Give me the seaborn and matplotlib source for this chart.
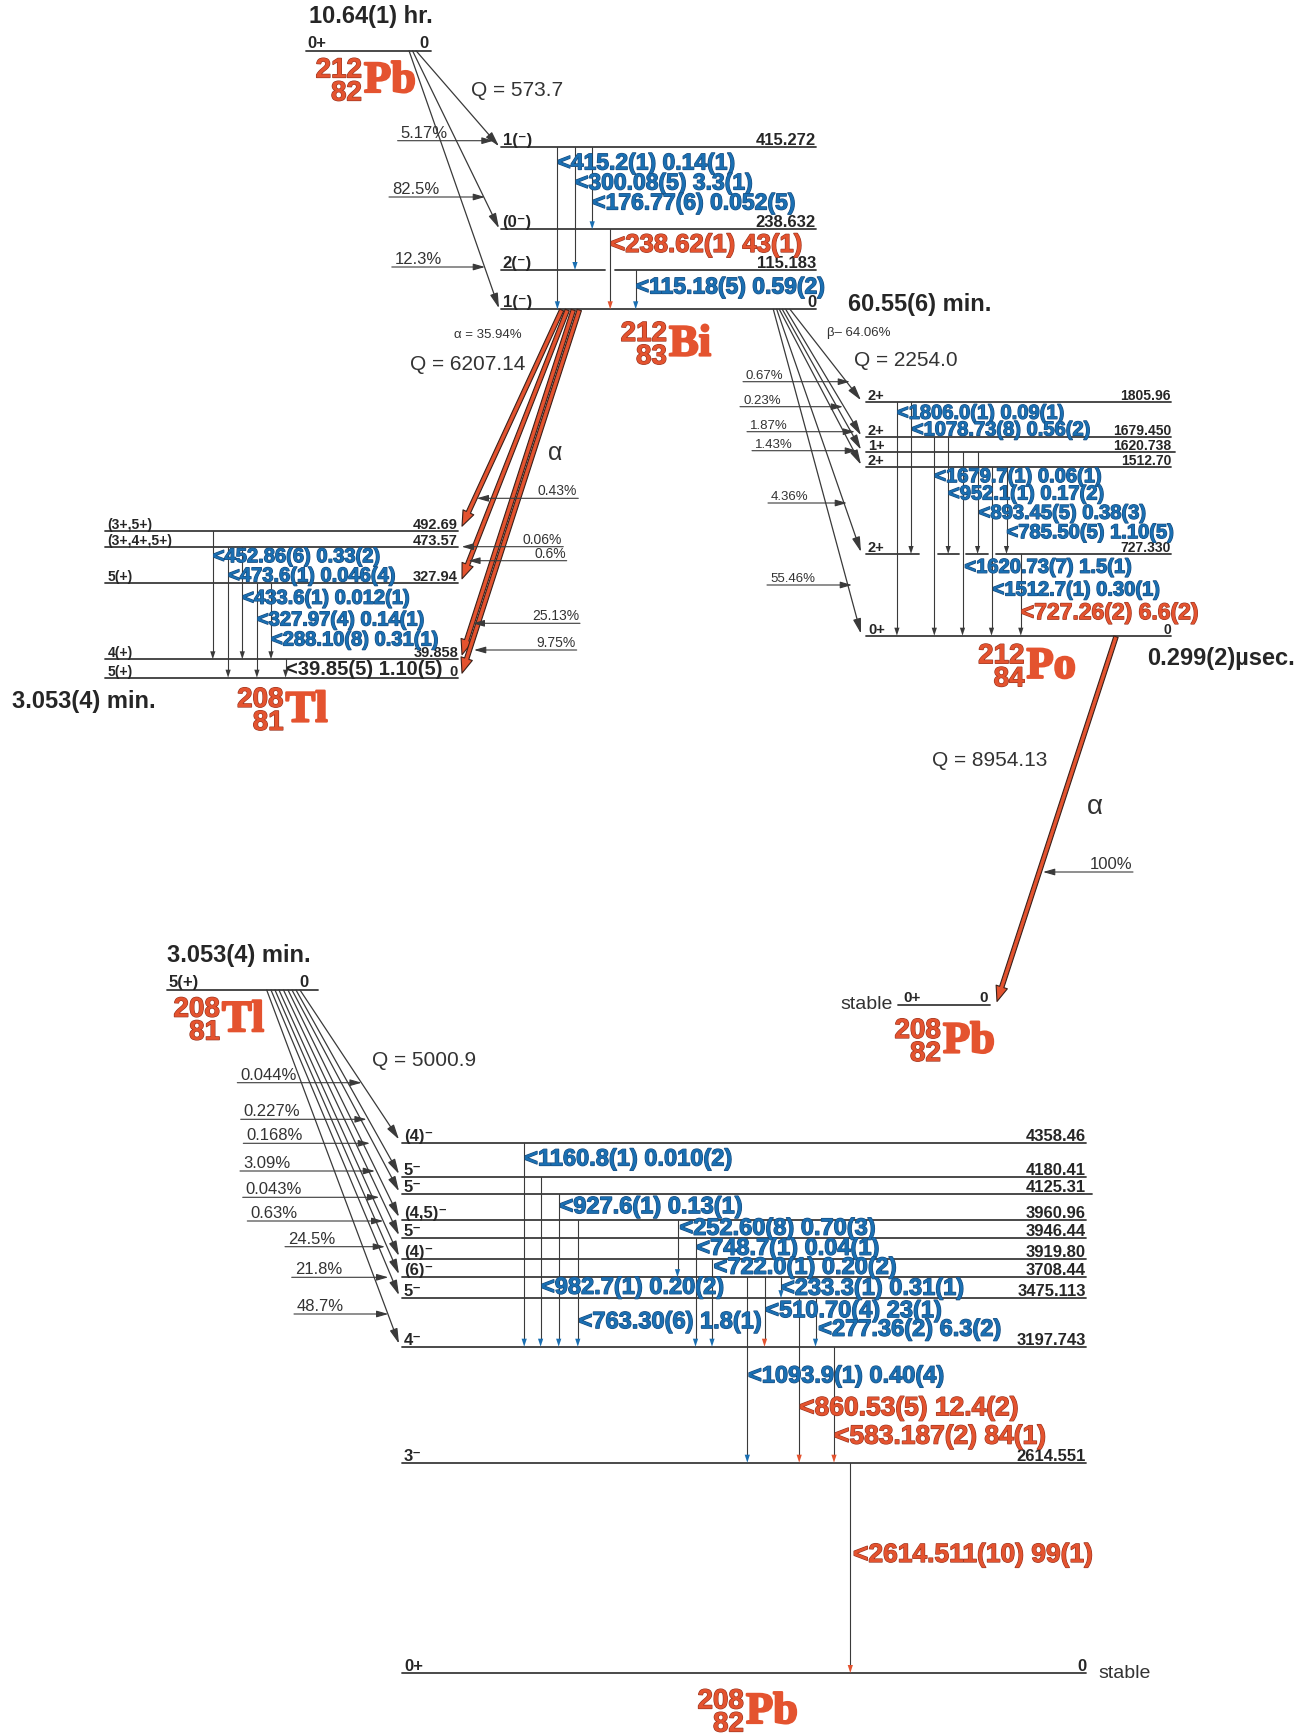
import matplotlib
matplotlib.use("Agg")
import pandas as pd
import matplotlib.pyplot as plt
import matplotlib.patheffects as pe
from matplotlib.patches import FancyArrowPatch
import seaborn as sns

# ----------------------------- #
# 1. Decay data (values read off the scheme)
# ----------------------------- #
# 212Pb -> 212Bi (beta-)
pb212_halflife = "10.64(1) hr."
pb212_q = "Q = 573.7"
bi_energy = ["415.272", "238.632", "115.183", "0"]
bi_spin = ["1(⁻)", "(0⁻)", "2(⁻)", "1(⁻)"]
bi_feed_level = ["415.272", "238.632", "0"]
bi_feed_pct = ["5.17%", "82.5%", "12.3%"]
bi_g_from = ["415.272", "415.272", "415.272", "238.632", "115.183"]
bi_g_to = ["0", "115.183", "238.632", "0", "0"]
bi_g_text = ["415.2(1) 0.14(1)", "300.08(5) 3.3(1)", "176.77(6) 0.052(5)",
             "238.62(1) 43(1)", "115.18(5) 0.59(2)"]

# 212Bi -> 208Tl (alpha)
bi_halflife = "60.55(6) min."
bi_alpha_branch = "α = 35.94%"
bi_alpha_q = "Q = 6207.14"
tl_energy = ["492.69", "473.57", "327.94", "39.858", "0"]
tl_spin = ["(3+,5+)", "(3+,4+,5+)", "5(+)", "4(+)", "5(+)"]
bi_alpha_to = ["492.69", "327.94", "39.858", "0"]
bi_alpha_pct = ["0.43%", "0.06%", "0.6%", "25.13%", "9.75%"]
tl_g_from = ["492.69", "473.57", "473.57", "327.94", "327.94", "39.858"]
tl_g_to = ["39.858", "0", "39.858", "0", "39.858", "0"]
tl_g_text = ["452.86(6) 0.33(2)", "473.6(1) 0.046(4)", "433.6(1) 0.012(1)",
             "327.97(4) 0.14(1)", "288.10(8) 0.31(1)", "39.85(5) 1.10(5)"]
tl_halflife = "3.053(4) min."

# 212Bi -> 212Po (beta-)
bi_beta_branch = "β– 64.06%"
bi_beta_q = "Q = 2254.0"
po_energy = ["1805.96", "1679.450", "1620.738", "1512.70", "727.330", "0"]
po_spin = ["2+", "2+", "1+", "2+", "2+", "0+"]
po_feed_pct = ["0.67%", "0.23%", "1.87%", "1.43%", "4.36%", "55.46%"]
po_g_from = ["1805.96", "1805.96", "1679.450", "1679.450", "1620.738",
             "1620.738", "1512.70", "1512.70", "727.330"]
po_g_to = ["0", "727.330", "0", "727.330", "0", "727.330", "0", "727.330", "0"]
po_g_text = ["1806.0(1) 0.09(1)", "1078.73(8) 0.56(2)", "1679.7(1) 0.06(1)",
             "952.1(1) 0.17(2)", "1620.73(7) 1.5(1)", "893.45(5) 0.38(3)",
             "1512.7(1) 0.30(1)", "785.50(5) 1.10(5)", "727.26(2) 6.6(2)"]
po_halflife = "0.299(2)µsec."

# 212Po -> 208Pb (alpha)
po_alpha_q = "Q = 8954.13"
po_alpha_pct = "100%"

# 208Tl -> 208Pb (beta-)
tl_q = "Q = 5000.9"
pb_energy = ["4358.46", "4180.41", "4125.31", "3960.96", "3946.44", "3919.80",
             "3708.44", "3475.113", "3197.743", "2614.551", "0"]
pb_spin = ["(4)⁻", "5⁻", "5⁻", "(4,5)⁻", "5⁻", "(4)⁻", "(6)⁻", "5⁻", "4⁻", "3⁻", "0+"]
tl_feed_pct = ["0.044%", "0.227%", "0.168%", "3.09%", "0.043%", "0.63%",
               "24.5%", "21.8%", "48.7%"]
pb_g_from = ["4358.46", "4180.41", "4125.31", "3960.96", "3960.96", "3946.44",
             "3919.80", "3708.44", "3708.44", "3708.44", "3475.113", "3475.113",
             "3197.743", "2614.551"]
pb_g_to = ["3197.743", "3197.743", "3197.743", "3197.743", "3708.44", "3197.743",
           "3197.743", "2614.551", "3197.743", "3475.113", "2614.551", "3197.743",
           "2614.551", "0"]
pb_g_text = ["1160.8(1) 0.010(2)", "982.7(1) 0.20(2)", "927.6(1) 0.13(1)",
             "763.30(6) 1.8(1)", "252.60(8) 0.70(3)", "748.7(1) 0.04(1)",
             "722.0(1) 0.20(2)", "1093.9(1) 0.40(4)", "510.70(4) 23(1)",
             "233.3(1) 0.31(1)", "860.53(5) 12.4(2)", "277.36(2) 6.3(2)",
             "583.187(2) 84(1)", "2614.511(10) 99(1)"]

# ----------------------------- #
# 2. Layout of the scheme (pixel canvas) and styles
# ----------------------------- #
RED, RED_EDGE = "#e4532f", "#9a3420"
BLUE, BLUE_EDGE = "#1a6fb2", "#174a7c"
INK, LINE = "#262626", "#3a3a3a"

bi_y = [147.3, 229.3, 270, 309.3]
bi_x = (500.5, 816)
bi_beta_start = [416, 412.5, 409]
bi_pct_arrow = [(397.6, 493.6, 140.7), (389, 485, 197), (391.8, 485, 267)]
bi_gx = [557.4, 575, 592.2, 610.2, 635.7]
bi_gly = [163, 183, 203, 245, 287]
bi_gcol = ["b", "b", "b", "r", "b"]

tl_y = [530.7, 547.3, 583.3, 659.3, 677.7]
tl_x = (105.4, 458)
bi_alpha_start = [561.7, 567.3, 573.3, 579.3]
bi_alpha_arrow = [(476.7, 578.3, 498.3), (461.7, 563.3, 546.7), (468.3, 566.7, 560.7),
                  (472.7, 580, 623.3), (474, 576.7, 650)]
tl_gx = [212.8, 228.1, 242.3, 256.9, 271, 285.6]
tl_gly = [556.7, 576, 598.3, 620, 640, 669.3]
tl_gcol = ["b", "b", "b", "b", "b", "k"]

po_y = [402.3, 437.3, 451.7, 466.7, 554, 635.7]
po_x = (866, 1171)
po_beta_start = [790, 785.7, 782.3, 779.3, 776.7, 773.3]
po_pct_arrow = [(743, 850, 381.7), (740, 843, 406.7), (747, 855, 431.7),
                (752, 857, 450.7), (768, 847, 503), (767, 852, 585)]
po_gx = [896.9, 911, 934.3, 948.2, 962.5, 977.6, 991.5, 1006.5, 1020.8]
po_glx = [896.9, 911.8, 934.3, 948, 964.4, 978.7, 992.6, 1006.5, 1020.8]
po_gly = [413.3, 430, 476.7, 494, 567.3, 513.3, 590, 532.7, 612.7]
po_gcol = ["b"] * 8 + ["r"]

pb_y = [1142.5, 1177, 1194.3, 1220, 1238.2, 1259, 1277.2, 1298.2, 1346.7, 1462.7, 1673]
pb_x = (402, 1086)
tl_beta_start = [300, 296, 292, 288, 283.5, 279, 275, 271, 266.7]
tl_pct_arrow = [(237.3, 361.7, 1082.7), (240.7, 366.7, 1119.3), (243.3, 370, 1143.3),
                (240, 375, 1171), (242.7, 379.3, 1197.3), (247.3, 383.3, 1221),
                (285, 385, 1246.7), (291.7, 388.3, 1277.3), (294, 388.3, 1314)]
pb_gx = [524.2, 540.6, 558.7, 577.8, 677.5, 695.5, 712, 747.3, 764.5, 781, 799.2,
         815.5, 834, 850.3]
pb_glx = [524.2, 541, 559.5, 578.6, 679.4, 696.3, 713.6, 748, 765.3, 781, 799.2,
          818.2, 834, 853]
pb_gly = [1159, 1287.3, 1206.7, 1321.7, 1228.3, 1248.3, 1267.3, 1376, 1310.7,
          1288.3, 1408.3, 1329.3, 1436.7, 1555]
pb_glabel = ["b"] * 10 + ["r", "b", "r", "r"]
pb_ghead = ["b"] * 8 + ["r", "b", "r", "b", "r", "r"]

COL = {"b": (BLUE, BLUE_EDGE), "r": (RED, RED_EDGE), "k": (INK, None)}

# ----------------------------- #
# 3. Canvas
# ----------------------------- #
sns.set_theme(style="white")
plt.rcParams["font.family"] = ["Liberation Sans", "DejaVu Sans"]
plt.rcParams["savefig.facecolor"] = "white"

fig = plt.figure(figsize=(13.09, 17.35), dpi=100)
ax = fig.add_axes([0, 0, 1, 1])

level_rows = []
gamma_rows = []


def seg(rows, x0, y0, x1, y1):
    n = len(rows) // 2
    rows.append({"seg": n, "x": x0, "y": y0})
    rows.append({"seg": n, "x": x1, "y": y1})


def text(x, y, s, fs, weight="normal", color=INK, ha="left", va="baseline",
         family=None, edge=None, lw=1.4):
    kw = {}
    if family:
        kw["family"] = family
    if edge:
        kw["path_effects"] = [pe.withStroke(linewidth=lw, foreground=edge)]
    ax.text(x, y, s, fontsize=fs, fontweight=weight, color=color, ha=ha, va=va, **kw)


def levels(energies, spins, ys, x0, x1, fs_e, fs_s, gaps=None, right_ext=None):
    gaps = gaps or {}
    right_ext = right_ext or {}
    for e, s, y in zip(energies, spins, ys):
        xr = right_ext.get(e, x1)
        pts = [x0]
        for a, b in gaps.get(e, []):
            pts += [a, b]
        pts.append(xr)
        for a, b in zip(pts[::2], pts[1::2]):
            seg(level_rows, a, y, b, y)
        text(x0 + 2, y - 2, s, fs_s, "bold")
        text(x1, y - 2, e, fs_e, "bold", ha="right")


def head(x, y, color, w=2.6, h=8):
    ax.fill([x - w, x + w, x], [y - h, y - h, y], color=color, lw=0, zorder=4)


def gammas(frm, to, labels, ymap, gx, glx, gly, lcol, hcol, fs):
    for f, t, lab, x, lx, ly, lc, hc in zip(frm, to, labels, gx, glx, gly, lcol, hcol):
        y0, y1 = ymap[f], ymap[t]
        seg(gamma_rows, x, y0, x, y1 - 6)
        head(x, y1, COL[hc][0] if hc != "k" else LINE)
        c, e = COL[lc]
        size = fs + 2 if lc == "r" else fs
        text(lx, ly, "<" + lab, size, "bold", color=c, va="center", edge=e, lw=0.9)


def arrow(p0, p1, lw=0.9, hl=0.45, hw=0.12, color=LINE):
    ax.add_patch(FancyArrowPatch(p0, p1, arrowstyle=f"-|>,head_length={hl},head_width={hw}",
                                 mutation_scale=20, lw=lw, color=color,
                                 shrinkA=0, shrinkB=0, zorder=3))


def alpha_arrow(p0, p1):
    ax.add_patch(FancyArrowPatch(p0, p1,
                                 arrowstyle="simple,head_length=1.1,head_width=0.85,tail_width=0.32",
                                 mutation_scale=10, fc=RED, ec="#3a2019", lw=0.8,
                                 shrinkA=0, shrinkB=0, zorder=3))


def pct_arrow(x0, x1, y, label, fs, left=False):
    if left:
        arrow((x1, y), (x0, y), lw=0.8, hl=0.35, hw=0.1)
        text(x1 - 1, y - 3, label, fs, ha="right", color="#333333")
    else:
        arrow((x0, y), (x1, y), lw=0.8, hl=0.35, hw=0.1)
        text(x0 + 3, y - 3, label, fs, color="#333333")


def nuclide(xs, yc, mass, z, sym):
    text(xs - 2, yc, mass, 20, "bold", color=RED, ha="right", edge=RED_EDGE, lw=0.9)
    text(xs - 2, yc + 23, z, 20, "bold", color=RED, ha="right", edge=RED_EDGE, lw=0.9)
    text(xs, yc + 14.5, sym, 32, "bold", color=RED, family="Liberation Serif",
         edge=RED, lw=1.6)


# ----------------------------- #
# 4. 212Pb -> 212Bi
# ----------------------------- #
seg(level_rows, 305.5, 50.7, 431, 50.7)
text(307, 48, "0+", 12, "bold")
text(429, 48, "0", 12, "bold", ha="right")
text(309, 17, pb212_halflife, 17, "bold", va="center")
nuclide(364, 77.5, "212", "82", "Pb")
text(471, 90, pb212_q, 15, va="center", color="#333333")

bi_map = dict(zip(bi_energy, bi_y))
levels(bi_energy, bi_spin, bi_y, *bi_x, 12, 12, gaps={"115.183": [(604.6, 615)]})
for lev, x0 in zip(bi_feed_level, bi_beta_start):
    arrow((x0, 50.7), (499, bi_map[lev] - 1))
for (x0, x1, y), lab in zip(bi_pct_arrow, bi_feed_pct):
    pct_arrow(x0, x1, y, lab, 12)
gammas(bi_g_from, bi_g_to, bi_g_text, bi_map, bi_gx, bi_gx, bi_gly, bi_gcol, bi_gcol, 16.5)
nuclide(669, 341, "212", "83", "Bi")
text(848, 305, bi_halflife, 17, "bold", va="center")

# ----------------------------- #
# 5. 212Bi -> 208Tl (alpha)
# ----------------------------- #
tl_map = dict(zip(tl_energy, tl_y))
levels(tl_energy, tl_spin, tl_y, *tl_x, 10.5, 10)
for lev, x0 in zip(bi_alpha_to, bi_alpha_start):
    alpha_arrow((x0, 310), (462, tl_map[lev] - 4.5))
for (x0, x1, y), lab in zip(bi_alpha_arrow, bi_alpha_pct):
    pct_arrow(x0, x1, y, lab, 10, left=True)
text(454, 335, bi_alpha_branch, 9.5, va="center", color="#333333")
text(410, 365, bi_alpha_q, 15, va="center", color="#333333")
text(548, 453, "α", 18, va="center", color="#333333")
gammas(tl_g_from, tl_g_to, tl_g_text, tl_map, tl_gx, tl_gx, tl_gly, tl_gcol,
       ["k"] * 6, 14.5)
text(11.5, 701.7, tl_halflife, 17, "bold", va="center")
nuclide(285.6, 707, "208", "81", "Tl")

# ----------------------------- #
# 6. 212Bi -> 212Po (beta-)
# ----------------------------- #
po_map = dict(zip(po_energy, po_y))
levels(po_energy, po_spin, po_y, *po_x, 10, 10.5,
       gaps={"727.330": [(919.3, 938), (958.8, 966.3), (988, 996.4)]},
       right_ext={"1620.738": 1175})
for lev, x0 in zip(po_energy, po_beta_start):
    arrow((x0, 309.3), (861, po_map[lev] - 2))
for (x0, x1, y), lab in zip(po_pct_arrow, po_feed_pct):
    pct_arrow(x0, x1, y, lab, 9.5)
text(827, 333, bi_beta_branch, 9.5, va="center", color="#333333")
text(853.5, 360, bi_beta_q, 15, va="center", color="#333333")
gammas(po_g_from, po_g_to, po_g_text, po_map, po_gx, po_glx, po_gly, po_gcol,
       ["k"] * 9, 14.5)
nuclide(1026.5, 663.3, "212", "84", "Po")
text(1147, 658.3, po_halflife, 17, "bold", va="center")

# ----------------------------- #
# 7. 212Po -> 208Pb (alpha)
# ----------------------------- #
alpha_arrow((1116, 636.7), (997, 1001.5))
text(932, 760, po_alpha_q, 15, va="center", color="#333333")
text(1087, 807, "α", 20, va="center", color="#333333")
pct_arrow(1043, 1133, 872, po_alpha_pct, 12, left=True)
seg(level_rows, 898, 1005, 990, 1005)
text(903, 1002, "0+", 11, "bold")
text(988, 1002, "0", 11, "bold", ha="right")
text(893, 1004, "stable", 14, ha="right", va="center", color="#333333")
nuclide(943, 1038, "208", "82", "Pb")

# ----------------------------- #
# 8. 208Tl -> 208Pb (beta-)
# ----------------------------- #
seg(level_rows, 167, 990, 318, 990)
text(169, 987, "5(+)", 12, "bold")
text(308, 987, "0", 12, "bold", ha="right")
text(167, 955, tl_halflife, 17, "bold", va="center")
nuclide(222, 1016.7, "208", "81", "Tl")
text(372, 1060, tl_q, 15, va="center", color="#333333")

pb_map = dict(zip(pb_energy, pb_y))
levels(pb_energy, pb_spin, pb_y, *pb_x, 12, 12, right_ext={"4125.31": 1092})
for lev, x0 in zip(pb_energy, tl_beta_start):
    arrow((x0, 990), (399, pb_map[lev] - 3))
for (x0, x1, y), lab in zip(tl_pct_arrow, tl_feed_pct):
    pct_arrow(x0, x1, y, lab, 12)
gammas(pb_g_from, pb_g_to, pb_g_text, pb_map, pb_gx, pb_glx, pb_gly, pb_glabel,
       pb_ghead, 17)
text(1098, 1673, "stable", 14, va="center", color="#333333")
nuclide(746, 1708.5, "208", "82", "Pb")

# ----------------------------- #
# 9. Level and transition lines through seaborn
# ----------------------------- #
sns.lineplot(data=pd.DataFrame(level_rows), x="x", y="y", units="seg", estimator=None,
             sort=False, color=LINE, linewidth=1.3, ax=ax, legend=False)
sns.lineplot(data=pd.DataFrame(gamma_rows), x="x", y="y", units="seg", estimator=None,
             sort=False, color=LINE, linewidth=0.8, ax=ax, legend=False)

ax.set_xlim(0, 1309)
ax.set_ylim(1735, 0)
ax.axis("off")
fig.savefig("out.png", dpi=100)
